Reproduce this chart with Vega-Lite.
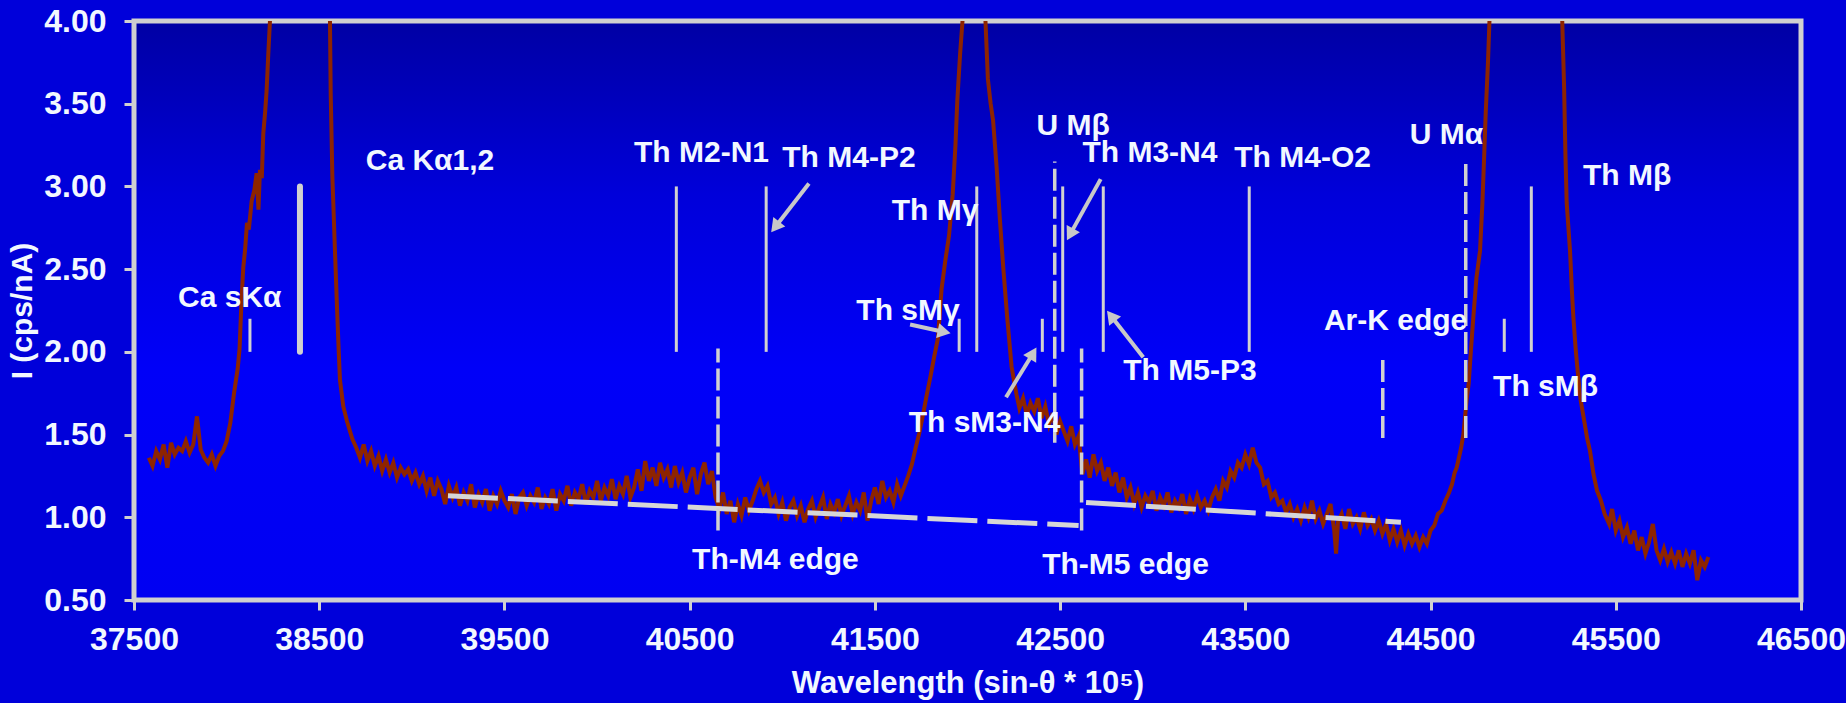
{
  "$schema": "https://vega.github.io/schema/vega-lite/v6.json",
  "width": 1667,
  "height": 579,
  "autosize": {"type": "none"},
  "padding": {"left": 134, "top": 21, "right": 45, "bottom": 103},
  "background": "#0000DA",
  "config": {
    "view": {
      "stroke": "#D0D0D0",
      "strokeWidth": 5,
      "fill": {"gradient": "linear", "x1": 0, "y1": 0, "x2": 0, "y2": 1,
        "stops": [{"offset": 0, "color": "#0000A4"}, {"offset": 0.3, "color": "#0000DA"}, {"offset": 0.6, "color": "#0000F8"}, {"offset": 1, "color": "#0000F2"}]}
    },
    "font": "Liberation Sans",
    "axis": {"labelFont": "Liberation Sans", "titleFont": "Liberation Sans", "labelFontWeight": "bold", "titleFontWeight": "bold",
      "labelColor": "#F2F8FF", "titleColor": "#F2F8FF", "tickColor": "#D0D0D0", "domain": false, "grid": false,
      "labelFontSize": 32, "tickSize": 10, "tickWidth": 3}
  },
  "datasets": {
    "spectrum": [
      {"x":37580,"y":1.36},{"x":37600,"y":1.31},{"x":37620,"y":1.40},{"x":37640,"y":1.35},{"x":37660,"y":1.44},{"x":37680,"y":1.30},{"x":37700,"y":1.45},{"x":37720,"y":1.38},{"x":37740,"y":1.42},{"x":37760,"y":1.40},
      {"x":37780,"y":1.46},{"x":37800,"y":1.39},{"x":37820,"y":1.44},{"x":37840,"y":1.61},{"x":37860,"y":1.41},{"x":37880,"y":1.36},{"x":37900,"y":1.33},{"x":37920,"y":1.38},{"x":37940,"y":1.31},{"x":37960,"y":1.37},
      {"x":37980,"y":1.40},{"x":38000,"y":1.46},{"x":38020,"y":1.57},{"x":38040,"y":1.75},{"x":38060,"y":1.90},{"x":38070,"y":2.02},{"x":38080,"y":2.30},{"x":38090,"y":2.51},{"x":38100,"y":2.62},{"x":38110,"y":2.78},
      {"x":38120,"y":2.74},{"x":38135,"y":2.91},{"x":38150,"y":2.98},{"x":38162,"y":3.08},{"x":38172,"y":2.86},{"x":38180,"y":3.10},{"x":38190,"y":3.05},{"x":38198,"y":3.32},{"x":38208,"y":3.45},{"x":38216,"y":3.58},
      {"x":38225,"y":3.80},{"x":38234,"y":4.00},{"x":38260,"y":5.5},{"x":38320,"y":8.5},{"x":38400,"y":10},{"x":38480,"y":8.5},{"x":38540,"y":5.5},{"x":38558,"y":4.00},{"x":38562,"y":3.56},{"x":38571,"y":3.06},
      {"x":38585,"y":2.61},{"x":38598,"y":2.21},{"x":38605,"y":2.01},{"x":38612,"y":1.83},{"x":38630,"y":1.67},{"x":38650,"y":1.58},{"x":38666,"y":1.52},{"x":38680,"y":1.47},{"x":38700,"y":1.42},{"x":38720,"y":1.36},
      {"x":38740,"y":1.44},{"x":38760,"y":1.34},{"x":38780,"y":1.40},{"x":38800,"y":1.31},{"x":38820,"y":1.37},{"x":38840,"y":1.28},{"x":38860,"y":1.35},{"x":38880,"y":1.27},{"x":38900,"y":1.33},{"x":38920,"y":1.24},
      {"x":38940,"y":1.30},{"x":38960,"y":1.26},{"x":38980,"y":1.29},{"x":39000,"y":1.22},{"x":39020,"y":1.27},{"x":39040,"y":1.20},{"x":39060,"y":1.25},{"x":39080,"y":1.16},{"x":39100,"y":1.24},{"x":39120,"y":1.13},
      {"x":39140,"y":1.22},{"x":39160,"y":1.17},{"x":39180,"y":1.08},{"x":39200,"y":1.19},{"x":39220,"y":1.12},{"x":39240,"y":1.18},{"x":39260,"y":1.07},{"x":39280,"y":1.15},{"x":39300,"y":1.10},{"x":39320,"y":1.20},
      {"x":39340,"y":1.06},{"x":39360,"y":1.14},{"x":39380,"y":1.09},{"x":39400,"y":1.17},{"x":39420,"y":1.04},{"x":39440,"y":1.13},{"x":39460,"y":1.08},{"x":39480,"y":1.16},{"x":39500,"y":1.10},{"x":39520,"y":1.06},
      {"x":39540,"y":1.14},{"x":39560,"y":1.02},{"x":39580,"y":1.12},{"x":39600,"y":1.15},{"x":39620,"y":1.07},{"x":39640,"y":1.13},{"x":39660,"y":1.09},{"x":39680,"y":1.18},{"x":39700,"y":1.05},{"x":39720,"y":1.12},
      {"x":39740,"y":1.08},{"x":39760,"y":1.17},{"x":39780,"y":1.04},{"x":39800,"y":1.14},{"x":39820,"y":1.10},{"x":39840,"y":1.19},{"x":39860,"y":1.07},{"x":39880,"y":1.15},{"x":39900,"y":1.11},{"x":39920,"y":1.20},
      {"x":39940,"y":1.08},{"x":39960,"y":1.16},{"x":39980,"y":1.12},{"x":40000,"y":1.22},{"x":40020,"y":1.10},{"x":40040,"y":1.18},{"x":40060,"y":1.13},{"x":40080,"y":1.23},{"x":40100,"y":1.11},{"x":40120,"y":1.19},
      {"x":40140,"y":1.14},{"x":40160,"y":1.25},{"x":40180,"y":1.12},{"x":40200,"y":1.18},{"x":40220,"y":1.29},{"x":40240,"y":1.16},{"x":40260,"y":1.34},{"x":40280,"y":1.22},{"x":40300,"y":1.30},{"x":40320,"y":1.19},
      {"x":40340,"y":1.33},{"x":40360,"y":1.24},{"x":40380,"y":1.29},{"x":40400,"y":1.18},{"x":40420,"y":1.31},{"x":40440,"y":1.21},{"x":40460,"y":1.27},{"x":40480,"y":1.15},{"x":40500,"y":1.24},{"x":40520,"y":1.30},
      {"x":40540,"y":1.14},{"x":40560,"y":1.26},{"x":40580,"y":1.33},{"x":40600,"y":1.20},{"x":40620,"y":1.28},{"x":40640,"y":1.12},{"x":40660,"y":1.05},{"x":40680,"y":1.15},{"x":40700,"y":1.02},{"x":40720,"y":1.10},
      {"x":40740,"y":0.97},{"x":40760,"y":1.08},{"x":40780,"y":1.01},{"x":40800,"y":1.12},{"x":40820,"y":1.04},{"x":40840,"y":1.10},{"x":40860,"y":1.17},{"x":40880,"y":1.22},{"x":40900,"y":1.15},{"x":40920,"y":1.19},
      {"x":40940,"y":1.08},{"x":40960,"y":1.12},{"x":40980,"y":1.02},{"x":41000,"y":1.09},{"x":41020,"y":0.98},{"x":41040,"y":1.06},{"x":41060,"y":1.10},{"x":41080,"y":1.01},{"x":41100,"y":1.07},{"x":41120,"y":0.97},
      {"x":41140,"y":1.05},{"x":41160,"y":1.10},{"x":41180,"y":1.00},{"x":41200,"y":1.06},{"x":41220,"y":1.12},{"x":41240,"y":0.99},{"x":41260,"y":1.08},{"x":41280,"y":1.03},{"x":41300,"y":1.11},{"x":41320,"y":1.01},
      {"x":41340,"y":1.07},{"x":41360,"y":1.13},{"x":41380,"y":1.02},{"x":41400,"y":1.09},{"x":41420,"y":1.04},{"x":41440,"y":1.15},{"x":41460,"y":0.98},{"x":41480,"y":1.10},{"x":41500,"y":1.18},{"x":41520,"y":1.08},
      {"x":41540,"y":1.22},{"x":41560,"y":1.12},{"x":41580,"y":1.16},{"x":41600,"y":1.09},{"x":41620,"y":1.20},{"x":41640,"y":1.13},{"x":41660,"y":1.19},{"x":41680,"y":1.25},{"x":41700,"y":1.32},{"x":41720,"y":1.42},
      {"x":41740,"y":1.51},{"x":41760,"y":1.62},{"x":41780,"y":1.74},{"x":41800,"y":1.85},{"x":41820,"y":1.97},{"x":41840,"y":2.08},{"x":41860,"y":2.38},{"x":41880,"y":2.55},{"x":41900,"y":2.70},{"x":41920,"y":2.95},
      {"x":41935,"y":3.25},{"x":41945,"y":3.52},{"x":41960,"y":3.80},{"x":41973,"y":4.00},{"x":41990,"y":5.0},{"x":42040,"y":9.0},{"x":42080,"y":5.0},{"x":42097,"y":4.00},{"x":42110,"y":3.65},{"x":42125,"y":3.50},
      {"x":42138,"y":3.40},{"x":42157,"y":3.12},{"x":42175,"y":2.80},{"x":42193,"y":2.51},{"x":42215,"y":2.20},{"x":42238,"y":1.91},{"x":42255,"y":1.80},{"x":42265,"y":1.74},{"x":42280,"y":1.66},{"x":42300,"y":1.72},
      {"x":42320,"y":1.62},{"x":42340,"y":1.69},{"x":42360,"y":1.64},{"x":42380,"y":1.72},{"x":42400,"y":1.60},{"x":42420,"y":1.67},{"x":42440,"y":1.56},{"x":42460,"y":1.63},{"x":42480,"y":1.50},{"x":42500,"y":1.58},
      {"x":42520,"y":1.52},{"x":42540,"y":1.46},{"x":42560,"y":1.55},{"x":42580,"y":1.44},{"x":42600,"y":1.49},{"x":42620,"y":1.26},{"x":42640,"y":1.35},{"x":42660,"y":1.24},{"x":42680,"y":1.38},{"x":42700,"y":1.28},
      {"x":42720,"y":1.33},{"x":42740,"y":1.22},{"x":42760,"y":1.30},{"x":42780,"y":1.19},{"x":42800,"y":1.27},{"x":42820,"y":1.15},{"x":42840,"y":1.24},{"x":42860,"y":1.12},{"x":42880,"y":1.18},{"x":42900,"y":1.08},
      {"x":42920,"y":1.15},{"x":42940,"y":1.06},{"x":42960,"y":1.13},{"x":42980,"y":1.09},{"x":43000,"y":1.16},{"x":43020,"y":1.04},{"x":43040,"y":1.12},{"x":43060,"y":1.07},{"x":43080,"y":1.15},{"x":43100,"y":1.03},
      {"x":43120,"y":1.10},{"x":43140,"y":1.06},{"x":43160,"y":1.14},{"x":43180,"y":1.02},{"x":43200,"y":1.11},{"x":43220,"y":1.05},{"x":43240,"y":1.13},{"x":43260,"y":1.06},{"x":43280,"y":1.10},{"x":43300,"y":1.04},
      {"x":43320,"y":1.12},{"x":43340,"y":1.17},{"x":43360,"y":1.10},{"x":43380,"y":1.22},{"x":43400,"y":1.18},{"x":43420,"y":1.28},{"x":43440,"y":1.24},{"x":43460,"y":1.33},{"x":43480,"y":1.30},{"x":43500,"y":1.38},
      {"x":43520,"y":1.32},{"x":43540,"y":1.42},{"x":43560,"y":1.33},{"x":43580,"y":1.30},{"x":43600,"y":1.20},{"x":43620,"y":1.22},{"x":43640,"y":1.12},{"x":43660,"y":1.15},{"x":43680,"y":1.08},{"x":43700,"y":1.10},
      {"x":43720,"y":1.03},{"x":43740,"y":1.08},{"x":43760,"y":1.00},{"x":43780,"y":1.05},{"x":43800,"y":0.98},{"x":43820,"y":1.06},{"x":43840,"y":1.00},{"x":43860,"y":1.10},{"x":43880,"y":0.99},{"x":43900,"y":1.04},
      {"x":43920,"y":0.96},{"x":43940,"y":1.02},{"x":43960,"y":1.08},{"x":43980,"y":0.92},{"x":43990,"y":0.78},{"x":44000,"y":0.97},{"x":44020,"y":1.02},{"x":44040,"y":0.93},{"x":44060,"y":1.05},{"x":44080,"y":0.96},
      {"x":44100,"y":1.00},{"x":44120,"y":0.93},{"x":44140,"y":1.03},{"x":44160,"y":0.95},{"x":44180,"y":0.99},{"x":44200,"y":0.92},{"x":44220,"y":0.98},{"x":44240,"y":0.90},{"x":44260,"y":0.96},{"x":44280,"y":0.86},
      {"x":44300,"y":0.93},{"x":44320,"y":0.85},{"x":44340,"y":0.92},{"x":44360,"y":0.83},{"x":44380,"y":0.90},{"x":44400,"y":0.84},{"x":44420,"y":0.89},{"x":44440,"y":0.82},{"x":44460,"y":0.88},{"x":44480,"y":0.84},
      {"x":44500,"y":0.92},{"x":44520,"y":0.95},{"x":44540,"y":1.02},{"x":44560,"y":1.04},{"x":44580,"y":1.10},{"x":44600,"y":1.15},{"x":44616,"y":1.20},{"x":44630,"y":1.27},{"x":44641,"y":1.30},{"x":44653,"y":1.36},
      {"x":44665,"y":1.42},{"x":44677,"y":1.50},{"x":44695,"y":1.71},{"x":44706,"y":1.81},{"x":44718,"y":2.01},{"x":44731,"y":2.21},{"x":44748,"y":2.45},{"x":44767,"y":2.61},{"x":44780,"y":2.90},{"x":44790,"y":3.20},
      {"x":44798,"y":3.45},{"x":44810,"y":3.75},{"x":44818,"y":4.00},{"x":44830,"y":5.0},{"x":44950,"y":9.0},{"x":45100,"y":9.0},{"x":45200,"y":5.0},{"x":45211,"y":4.00},{"x":45221,"y":3.60},{"x":45228,"y":3.20},
      {"x":45235,"y":2.90},{"x":45253,"y":2.61},{"x":45264,"y":2.35},{"x":45271,"y":2.21},{"x":45284,"y":2.01},{"x":45297,"y":1.85},{"x":45310,"y":1.71},{"x":45330,"y":1.58},{"x":45345,"y":1.48},{"x":45361,"y":1.40},
      {"x":45380,"y":1.26},{"x":45399,"y":1.16},{"x":45420,"y":1.10},{"x":45440,"y":1.02},{"x":45464,"y":0.96},{"x":45480,"y":1.05},{"x":45500,"y":0.92},{"x":45520,"y":0.98},{"x":45539,"y":0.88},{"x":45560,"y":0.94},
      {"x":45580,"y":0.84},{"x":45600,"y":0.92},{"x":45620,"y":0.80},{"x":45640,"y":0.88},{"x":45660,"y":0.78},{"x":45680,"y":0.85},{"x":45700,"y":0.96},{"x":45720,"y":0.80},{"x":45740,"y":0.74},{"x":45760,"y":0.81},
      {"x":45780,"y":0.73},{"x":45800,"y":0.79},{"x":45820,"y":0.72},{"x":45840,"y":0.80},{"x":45860,"y":0.70},{"x":45880,"y":0.78},{"x":45900,"y":0.72},{"x":45920,"y":0.80},{"x":45940,"y":0.62},{"x":45960,"y":0.74},
      {"x":45980,"y":0.70},{"x":46000,"y":0.76}
    ],
    "solidLines": [
      {"name":"Ca sKα","x":38126,"y":2.0,"y2":2.2},
      {"name":"Th M2-N1","x":40428,"y":2.0,"y2":3.0},
      {"name":"Th M4-P2","x":40913,"y":2.0,"y2":3.0},
      {"name":"Th sMγ","x":41955,"y":2.0,"y2":2.2},
      {"name":"Th Mγ","x":42050,"y":2.0,"y2":3.0},
      {"name":"Th sM3-N4","x":42404,"y":2.0,"y2":2.2},
      {"name":"Th M3-N4","x":42514,"y":2.0,"y2":3.0},
      {"name":"Th M5-P3","x":42733,"y":2.0,"y2":3.0},
      {"name":"Th M4-O2","x":43521,"y":2.0,"y2":3.0},
      {"name":"Th sMβ","x":44898,"y":2.0,"y2":2.2},
      {"name":"Th Mβ","x":45044,"y":2.0,"y2":3.0}
    ],
    "thickLines": [
      {"name":"Ca Kα1,2","x":38396,"y":2.0,"y2":3.0}
    ],
    "dashedLines": [
      {"name":"U Mβ","x":42471,"y":1.45,"y2":3.15},
      {"name":"U Mα","x":44690,"y":1.48,"y2":3.15},
      {"name":"Ar-K edge","x":44242,"y":1.48,"y2":1.97},
      {"name":"Th-M4 edge","x":40653,"y":0.92,"y2":2.02},
      {"name":"Th-M5 edge","x":42616,"y":0.92,"y2":2.02}
    ],
    "background": [
      {"seg":"below M5 edge","x":39195,"y":1.13,"x2":42600,"y2":0.95},
      {"seg":"above M5 edge","x":42640,"y":1.09,"x2":44340,"y2":0.97}
    ],
    "arrows": [
      {"label":"Th M4-P2","x":41144,"y":3.018,"x2":40962,"y2":2.755},
      {"label":"Th sMγ","x":41690,"y":2.165,"x2":41874,"y2":2.120},
      {"label":"Th sM3-N4","x":42208,"y":1.726,"x2":42354,"y2":1.992},
      {"label":"Th M3-N4","x":42719,"y":3.044,"x2":42554,"y2":2.710},
      {"label":"Th M5-P3","x":42949,"y":1.968,"x2":42775,"y2":2.217}
    ],
    "heads": [
      {"label":"Th M4-P2","x":40962,"y":2.755},
      {"label":"Th sMγ","x":41874,"y":2.120},
      {"label":"Th sM3-N4","x":42354,"y":1.992},
      {"label":"Th M3-N4","x":42554,"y":2.710},
      {"label":"Th M5-P3","x":42775,"y":2.217}
    ],
    "labels": [
      {"label":"Ca sKα","x":38017,"y":2.326},
      {"label":"Ca Kα1,2","x":39098,"y":3.154},
      {"label":"Th M2-N1","x":40564,"y":3.202},
      {"label":"Th M4-P2","x":41360,"y":3.172},
      {"label":"Th Mγ","x":41825,"y":2.851},
      {"label":"Th sMγ","x":41679,"y":2.250},
      {"label":"U Mβ","x":42570,"y":3.365},
      {"label":"Th M3-N4","x":42985,"y":3.202},
      {"label":"Th M4-O2","x":43809,"y":3.172},
      {"label":"U Mα","x":44586,"y":3.311},
      {"label":"Th Mβ","x":45561,"y":3.063},
      {"label":"Ar-K edge","x":44311,"y":2.187},
      {"label":"Th M5-P3","x":43201,"y":1.887},
      {"label":"Th sM3-N4","x":42092,"y":1.570},
      {"label":"Th sMβ","x":45121,"y":1.788},
      {"label":"Th-M4 edge","x":40963,"y":0.742},
      {"label":"Th-M5 edge","x":42853,"y":0.712}
    ]
  },
  "encoding": {
    "x": {"field": "x", "type": "quantitative",
      "scale": {"domain": [37500, 46500], "nice": false, "zero": false},
      "axis": {"values": [37500, 38500, 39500, 40500, 41500, 42500, 43500, 44500, 45500, 46500], "format": "d",
        "labelPadding": 14, "titleFontSize": 31, "titlePadding": 13, "labelFlush": false, "labelOverlap": false},
      "title": "Wavelength (sin-θ * 10⁵)"},
    "y": {"field": "y", "type": "quantitative",
      "scale": {"domain": [0.5, 4], "nice": false, "zero": false},
      "axis": {"values": [0.5, 1, 1.5, 2, 2.5, 3, 3.5, 4], "format": ".2f",
        "labelPadding": 18, "titleFontSize": 30, "titlePadding": 6, "labelFlush": false, "labelOverlap": false},
      "title": "I (cps/nA)"}
  },
  "layer": [
    {"data": {"name": "spectrum"},
     "mark": {"type": "line", "color": "#8E2400", "strokeWidth": 4, "clip": true}},
    {"data": {"name": "background"},
     "mark": {"type": "rule", "color": "#D6D6D6", "strokeWidth": 5, "strokeDash": [50, 10]},
     "encoding": {"x2": {"field": "x2"}, "y2": {"field": "y2"}}},
    {"data": {"name": "solidLines"},
     "mark": {"type": "rule", "color": "#D0D0D0", "strokeWidth": 3},
     "encoding": {"y2": {"field": "y2"}}},
    {"data": {"name": "thickLines"},
     "mark": {"type": "rule", "color": "#D0D0D0", "strokeWidth": 6, "strokeCap": "round"},
     "encoding": {"y2": {"field": "y2"}}},
    {"data": {"name": "dashedLines"},
     "mark": {"type": "rule", "color": "#D0D0D0", "strokeWidth": 3.5, "strokeDash": [22, 6]},
     "encoding": {"y2": {"field": "y2"}}},
    {"data": {"name": "arrows"},
     "mark": {"type": "rule", "color": "#C8C8C8", "strokeWidth": 4},
     "encoding": {"x2": {"field": "x2"}, "y2": {"field": "y2"}}},
    {"data": {"name": "heads"}, "transform": [{"filter": "datum.label === 'Th M4-P2'"}],
     "mark": {"type": "point", "shape": "triangle-up", "filled": true, "size": 230, "color": "#C8C8C8", "opacity": 1, "angle": 218}},
    {"data": {"name": "heads"}, "transform": [{"filter": "datum.label === 'Th sMγ'"}],
     "mark": {"type": "point", "shape": "triangle-up", "filled": true, "size": 230, "color": "#C8C8C8", "opacity": 1, "angle": 102}},
    {"data": {"name": "heads"}, "transform": [{"filter": "datum.label === 'Th sM3-N4'"}],
     "mark": {"type": "point", "shape": "triangle-up", "filled": true, "size": 230, "color": "#C8C8C8", "opacity": 1, "angle": 31}},
    {"data": {"name": "heads"}, "transform": [{"filter": "datum.label === 'Th M3-N4'"}],
     "mark": {"type": "point", "shape": "triangle-up", "filled": true, "size": 230, "color": "#C8C8C8", "opacity": 1, "angle": 209}},
    {"data": {"name": "heads"}, "transform": [{"filter": "datum.label === 'Th M5-P3'"}],
     "mark": {"type": "point", "shape": "triangle-up", "filled": true, "size": 230, "color": "#C8C8C8", "opacity": 1, "angle": 322}},
    {"data": {"name": "labels"},
     "mark": {"type": "text", "color": "#F2F8FF", "fontSize": 30, "fontWeight": "bold", "font": "Liberation Sans", "align": "center", "baseline": "middle"},
     "encoding": {"text": {"field": "label"}}}
  ]
}
